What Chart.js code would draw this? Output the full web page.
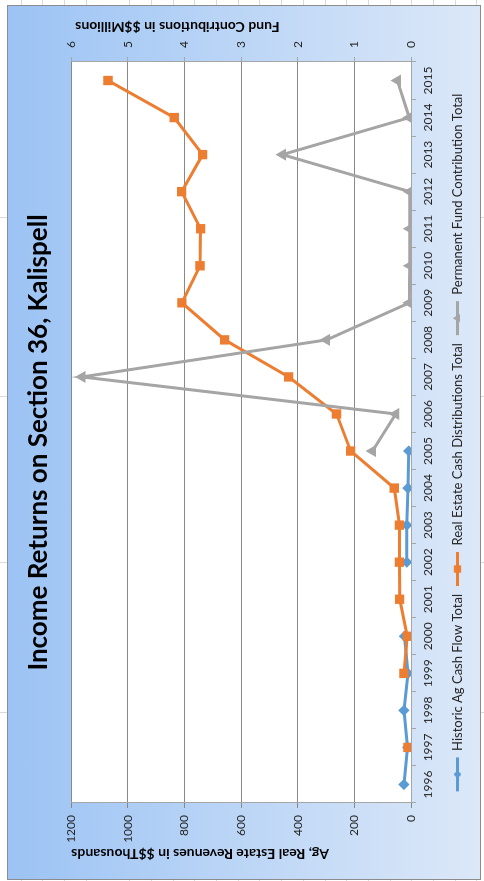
<!DOCTYPE html>
<html>
<head>
<meta charset="utf-8">
<title>Income Returns on Section 36, Kalispell</title>
<script src="https://cdn.jsdelivr.net/npm/chart.js@4.4.0/dist/chart.umd.min.js"></script>
<style>
  html, body { margin: 0; padding: 0; background: #fff; overflow: hidden; }
  /* the chart is laid out landscape, then turned a quarter turn like the source sheet */
  #sheet {
    position: absolute; left: 0; top: 0;
    width: 881px; height: 484px;
    transform-origin: 0 0;
    transform: translateY(881px) rotate(-90deg);
    background: repeating-linear-gradient(to bottom, #fff 0, #fff 20.7px, #dadada 20.7px, #dadada 21.7px);
  }
  .col { position: absolute; top: 0; width: 1px; height: 484px; background: #dadada; }
  #frame {
    position: absolute; left: 1px; top: 7px;
    width: 873px; height: 472px;
    border: 1px solid #8c8c8c;
    background: linear-gradient(to bottom, #9cc3f4 0%, #b9d4f6 45%, #dce8f8 100%);
  }
  #frame canvas { display: block; }
</style>
</head>
<body>
<div id="sheet">
  <div class="col" style="left:168px"></div>
  <div class="col" style="left:318px"></div>
  <div class="col" style="left:484px"></div>
  <div class="col" style="left:663px"></div>
  <div id="frame"><canvas id="myChart" width="873" height="472"></canvas></div>
</div>
<script>
const years = ["1996", "1997", "1998", "1999", "2000", "2001", "2002", "2003", "2004", "2005",
  "2006", "2007", "2008", "2009", "2010", "2011", "2012", "2013", "2014", "2015"];

// $ thousands
const agCashFlow = [25, 12, 25, 11, 23, null, 15, 15, 11, 8,
  null, null, null, null, null, null, null, null, null, null];
const realEstateCash = [null, 11, null, 25, 13, 40, 41, 41, 59, 213,
  263, 432, 658, 809, 745, 743, 810, 736, 836, 1070];

// $ millions (secondary axis)
const fundContrib = [null, null, null, null, null, null, null, null, null, 0.68,
  0.27, 5.81, 1.49, 0.03, 0.02, 0.02, 0.02, 2.27, 0.03, 0.24];

const revenueTicks = [0, 200, 400, 600, 800, 1000, 1200];
const fundTicks = [0, 1, 2, 3, 4, 5, 6];

const FONT = "Lato";
const TEXT = "#262626";

// white plot area on top of the gradient frame
const plotBackground = {
  id: "plotBackground",
  beforeDraw(chart) {
    const { ctx, chartArea } = chart;
    ctx.save();
    ctx.fillStyle = "#fff";
    ctx.fillRect(chartArea.left, chartArea.top, chartArea.width, chartArea.height);
    ctx.restore();
  },
};

// secondary axis title reads bottom-to-top like the primary one
const fundAxisTitle = {
  id: "fundAxisTitle",
  afterDraw(chart) {
    const s = chart.scales.y1;
    const ctx = chart.ctx;
    ctx.save();
    ctx.translate(s.right - 21, chart.chartArea.top + 4);
    ctx.rotate(-Math.PI / 2);
    ctx.font = "bold 14px " + FONT;
    ctx.fillStyle = "#000";
    ctx.textAlign = "right";
    ctx.textBaseline = "middle";
    ctx.fillText("Fund Contributions in $$Millions", 0, 0);
    ctx.restore();
  },
};

// put the series marker in the middle of each legend line
const legendMarkers = {
  id: "legendMarkers",
  afterDraw(chart) {
    const legend = chart.legend;
    if (!legend || !legend.legendHitBoxes || !Chart.helpers) return;
    const ctx = chart.ctx;
    const boxW = legend.options.labels.boxWidth;
    legend.legendItems.forEach((item, i) => {
      const hb = legend.legendHitBoxes[i];
      const ds = chart.data.datasets[item.datasetIndex];
      ctx.save();
      ctx.fillStyle = ds.borderColor;
      ctx.strokeStyle = ds.borderColor;
      ctx.lineWidth = 1;
      Chart.helpers.drawPoint(ctx, { pointStyle: ds.pointStyle, radius: ds.pointRadius, rotation: 0, borderWidth: 1 },
        hb.left + boxW / 2, hb.top + hb.height / 2);
      ctx.restore();
    });
  },
};

const ctx = document.getElementById("myChart").getContext("2d");
const myChart = new Chart(ctx, {
  type: "line",
  data: {
    labels: years,
    datasets: [
      {
        label: "Historic Ag Cash Flow Total",
        data: agCashFlow,
        yAxisID: "y",
        borderColor: "#5b9bd5",
        backgroundColor: "#5b9bd5",
        borderWidth: 3,
        pointStyle: "rectRot",
        pointRadius: 3.5,
        order: 3,
      },
      {
        label: "Real Estate Cash Distributions Total",
        data: realEstateCash,
        yAxisID: "y",
        borderColor: "#ed7d31",
        backgroundColor: "#ed7d31",
        borderWidth: 3,
        pointStyle: "rect",
        pointRadius: 4.5,
        order: 2,
      },
      {
        label: "Permanent Fund Contribution Total",
        data: fundContrib,
        yAxisID: "y1",
        borderColor: "#a5a5a5",
        backgroundColor: "#a5a5a5",
        borderWidth: 3,
        pointStyle: "triangle",
        pointRadius: 4,
        order: 1,
      },
    ],
  },
  options: {
    responsive: false,
    animation: false,
    layout: { padding: { left: 0, right: 0, top: 0, bottom: 6 } },
    elements: { line: { tension: 0 }, point: { borderWidth: 1, hoverRadius: 4 } },
    plugins: {
      title: {
        display: true,
        text: "Income Returns on Section 36, Kalispell",
        color: "#000",
        font: { family: FONT, size: 26, weight: "bold" },
        padding: { top: 15, bottom: 17 },
      },
      legend: {
        position: "bottom",
        labels: {
          color: TEXT,
          font: { family: FONT, size: 13 },
          boxWidth: 34,
          boxHeight: 3,
          padding: 8,
          sort: (a, b) => a.datasetIndex - b.datasetIndex,
          generateLabels(chart) {
            const items = Chart.defaults.plugins.legend.labels.generateLabels(chart);
            items.forEach((it) => { it.lineWidth = 0; });
            return items;
          },
        },
      },
      tooltip: { enabled: false },
    },
    scales: {
      x: {
        offset: true,
        grid: { offset: true, drawOnChartArea: false, tickLength: 5, color: "#a6a6a6" },
        border: { color: "#a6a6a6" },
        ticks: { color: TEXT, font: { family: FONT, size: 12 }, padding: 5, maxRotation: 0, autoSkip: false },
        afterFit: (scale) => { scale.height = 32; },
      },
      y: {
        position: "left",
        min: revenueTicks[0],
        max: revenueTicks[revenueTicks.length - 1],
        grid: { color: "#888888", tickLength: 5 },
        border: { color: "#a6a6a6" },
        ticks: {
          stepSize: revenueTicks[1] - revenueTicks[0],
          color: TEXT,
          font: { family: FONT, size: 12 },
          padding: 7,
          callback: (v) => String(v),
        },
        title: {
          display: true,
          text: "Ag, Real Estate Revenues in $$Thousands",
          align: "end",
          color: "#000",
          font: { family: FONT, size: 14, weight: "bold" },
          padding: { top: 17 },
        },
        afterFit: (scale) => { scale.width = 76; },
      },
      y1: {
        position: "right",
        min: fundTicks[0],
        max: fundTicks[fundTicks.length - 1],
        grid: { drawOnChartArea: false, color: "#a6a6a6", tickLength: 5 },
        border: { color: "#a6a6a6" },
        ticks: { stepSize: fundTicks[1] - fundTicks[0], color: TEXT, font: { family: FONT, size: 12 }, padding: 9 },
        afterFit: (scale) => { scale.width = 56; },
      },
    },
  },
  plugins: [plotBackground, fundAxisTitle, legendMarkers],
});
</script>
</body>
</html>
